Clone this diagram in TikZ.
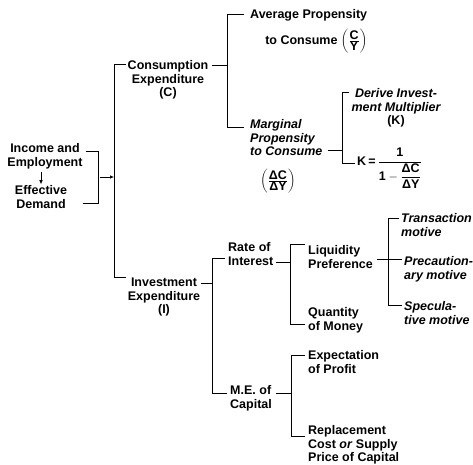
\documentclass[tikz,border=0pt]{standalone}
\usepackage{fontspec}
\setmainfont{Liberation Sans}
\usetikzlibrary{positioning,arrows.meta,calc}

\begin{document}
\begin{tikzpicture}[x=1pt,y=-1pt,>={Latex[length=4pt,width=3.5pt]},
  lbl/.style={inner sep=0pt,align=left,anchor=base west,font=\fontsize{12.5}{13.5}\selectfont\bfseries},
  lblc/.style={lbl,align=center,anchor=base},
  lbli/.style={lbl,font=\fontsize{12.5}{13.5}\selectfont\bfseries\itshape},
  brk/.style={line width=0.8pt}]
  \useasboundingbox (0,0) rectangle (473,464);

  % text blocks (placed at the baseline of their last line)
  \node[lblc] (incm) at (45,166) {Income and\\Employment};
  \node[lblc] (effd) at (41,208) {Effective\\Demand};
  \node[lblc] (cons) at (168,96.5) {Consumption\\Expenditure\\(C)};
  \node[lblc] (inv) at (164,313.5) {Investment\\Expenditure\\(I)};
  \node[lbl,align=right] (avg) at (250,44) {Average Propensity\\[7pt]to Consume $\left(\frac{\mbox{C}}{\mbox{Y}}\right)$};
  \node[lbli] (mpc) at (250,155.5) {Marginal\\Propensity\\to Consume};
  \node[lbl,anchor=center] (mpcfrac) at (278,181) {$\left(\frac{\mbox{ΔC}}{\mbox{ΔY}}\right)$};
  \node[lblc,font=\fontsize{12.5}{13.5}\selectfont\bfseries\itshape] (mult) at (396,124.5) {Derive Invest-\\ment Multiplier\\\upshape(K)};
  \node[lbl] (kform) at (357,165) {K\,=\,$\displaystyle\frac{\mbox{1}}{\mbox{1}-\displaystyle\frac{\mbox{ΔC}}{\mbox{ΔY}}}$};
  \node[lbl] (rate) at (228,265) {Rate of\\Interest};
  \node[lbl] (liq) at (308,268) {Liquidity\\Preference};
  \node[lbl] (qty) at (308,330) {Quantity\\of Money};
  \node[lbli] (trans) at (401,236) {Transaction\\motive};
  \node[lbli] (prec) at (404,279) {Precaution-\\ary motive};
  \node[lbli] (spec) at (404,324) {Specula-\\tive motive};
  \node[lbl] (mec) at (230,408) {M.E. of\\Capital};
  \node[lbl] (expc) at (308,373) {Expectation\\of Profit};
  \node[lbl] (repl) at (308,461.5) {Replacement\\Cost \textit{or} Supply\\Price of Capital};

  % bracket spines
  \coordinate (s0t) at (98,151);  \coordinate (s0m) at (98,177);  \coordinate (s0b) at (98,203);
  \coordinate (s1t) at (114,64);  \coordinate (s1b) at (114,277);
  \coordinate (s2t) at (227,14);  \coordinate (s2m) at (227,65);  \coordinate (s2b) at (227,127);
  \coordinate (s3t) at (342,92);  \coordinate (s3m) at (342,150); \coordinate (s3b) at (342,163);
  \coordinate (s4t) at (212,258); \coordinate (s4m) at (212,283); \coordinate (s4b) at (212,393);
  \coordinate (s5t) at (290,244); \coordinate (s5m) at (290,262); \coordinate (s5b) at (290,324);
  \coordinate (s6t) at (388,218); \coordinate (s6m) at (388,259); \coordinate (s6b) at (388,305);
  \coordinate (s7t) at (291,355); \coordinate (s7m) at (291,393); \coordinate (s7b) at (291,436);

  \draw[->,line width=0.6pt,shorten <=3pt,shorten >=1pt] (incm.south -| effd) -- (effd.north);
  \draw[brk] ([xshift=3pt]incm.east |- s0t) -- (s0t) -- (s0b) -- ([xshift=16pt]effd.east |- s0b);
  \draw[->,line width=0.6pt] ([xshift=2pt]s0m) -- (s0m -| s1t);

  \draw[brk] ([xshift=-2pt]cons.west |- s1t) -- (s1t) -- (s1b) -- ([xshift=-2pt]inv.west |- s1b);

  \draw[brk] ([xshift=4pt]cons.east |- s2m) -- (s2m);
  \draw[brk] ([xshift=-6pt]avg.base west |- s2t) -- (s2t) -- (s2b) -- ([xshift=-6pt]mpc.base west |- s2b);

  \draw[brk] ([xshift=5pt]mpc.east |- s3m) -- (s3m);
  \draw[brk] ([xshift=-2pt]mult.west |- s3t) -- (s3t) -- (s3b) -- ([xshift=-2pt]kform.west |- s3b);

  \draw[brk] ([xshift=1pt]inv.east |- s4m) -- (s4m);
  \draw[brk] ([xshift=-3pt]rate.west |- s4t) -- (s4t) -- (s4b) -- ([xshift=-3pt]mec.west |- s4b);

  \draw[brk] ([xshift=2pt]rate.east |- s5m) -- (s5m);
  \draw[brk] ([xshift=-3pt]liq.west |- s5t) -- (s5t) -- (s5b) -- ([xshift=-3pt]qty.west |- s5b);

  \draw[brk] ([xshift=4pt]liq.east |- s6m) -- (s6m);
  \draw[brk] ([xshift=-2pt]trans.west |- s6t) -- (s6t) -- (s6b) -- ([xshift=-2pt]spec.west |- s6b);
  \draw[brk] (s6m) -- ([xshift=-2pt]prec.west |- s6m);

  \draw[brk] ([xshift=4pt]mec.east |- s7m) -- (s7m);
  \draw[brk] ([xshift=-3pt]expc.west |- s7t) -- (s7t) -- (s7b) -- ([xshift=-3pt]repl.west |- s7b);
\end{tikzpicture}
\end{document}
